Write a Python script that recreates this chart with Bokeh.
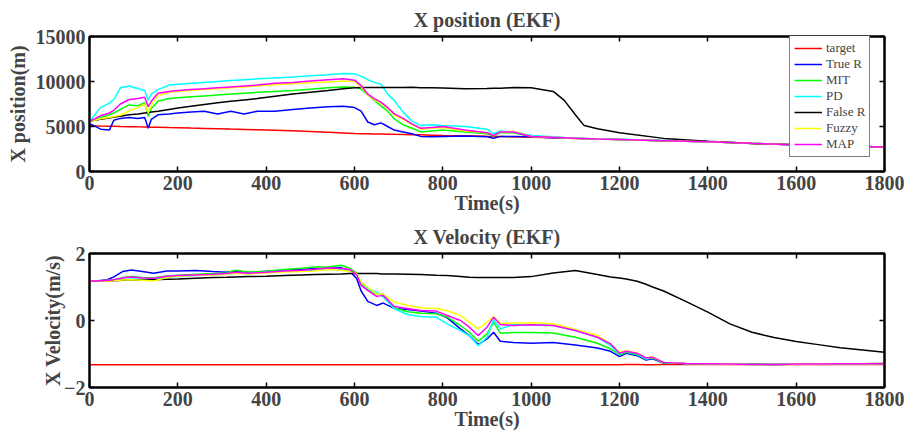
from bokeh.plotting import figure
from bokeh.layouts import column
from bokeh.models import (ColumnDataSource, LinearAxis, Range1d, FixedTicker,
                          Legend, LegendItem)
from bokeh.embed import file_html
from bokeh.resources import INLINE

# ---------------- X position (EKF) ----------------
t_pos = [0, 10, 25, 45, 55, 70, 90, 110, 125, 133, 140,
         155, 180, 200, 230, 260, 290, 320, 350, 380, 420, 460,
         500, 540, 575, 600, 615, 630, 645, 660, 675, 690, 710,
         730, 750, 775, 800, 850, 900, 915, 930, 960, 1000, 1050,
         1075, 1100, 1120, 1150, 1200, 1300, 1400, 1500, 1600, 1700, 1800]

pos_target = [5100, 5080, 5060, 5040, 5030, 5000, 4980, 4960, 4950, 4940, 4930,
              4910, 4880, 4860, 4820, 4790, 4750, 4710, 4680, 4640, 4590, 4520,
              4440, 4360, 4280, 4220, 4200, 4190, 4170, 4160, 4150, 4130, 4110,
              4090, 4070, 4040, 4000, 3960, 3910, 3900, 3890, 3850, 3800, 3740,
              3710, 3680, 3650, 3610, 3550, 3420, 3300, 3110, 2950, 2820, 2700]

pos_true_r = [5300, 5100, 4700, 4600, 5700, 5900, 6000, 5900, 6000, 4800, 5800,
              6300, 6400, 6500, 6600, 6700, 6400, 6700, 6400, 6700, 6700, 6900,
              7050, 7200, 7250, 7100, 6700, 5500, 5200, 5400, 5000, 4600, 4400,
              4200, 3900, 3850, 3900, 3950, 3850, 3700, 3900, 3900, 3850, 3760,
              3720, 3690, 3660, 3620, 3560, 3430, 3310, 3130, 2960, 2830, 2710]

pos_mit = [5500, 5700, 6000, 6300, 6500, 6900, 7400, 7300, 7650, 6100, 7000,
           7800, 8100, 8200, 8300, 8400, 8500, 8600, 8700, 8800, 8900, 9000,
           9150, 9300, 9400, 9350, 9150, 8500, 7900, 7300, 6700, 5850, 5200,
           4800, 4400, 4500, 4600, 4400, 4200, 3950, 4300, 4300, 3900, 3800,
           3750, 3700, 3670, 3620, 3560, 3430, 3310, 3130, 2960, 2830, 2710]

pos_pd = [5500, 6200, 7100, 7600, 8000, 9300, 9500, 9200, 9000, 7900, 8600,
          9100, 9600, 9700, 9800, 9900, 10000, 10100, 10200, 10300, 10400, 10500,
          10650, 10750, 10900, 10850, 10600, 10200, 9900, 9700, 8600, 7900, 6600,
          5600, 5100, 5200, 5100, 5000, 4700, 4200, 4500, 4400, 4000, 3850,
          3780, 3720, 3680, 3630, 3570, 3440, 3310, 3130, 2960, 2830, 2710]

pos_false_r = [5600, 5700, 5800, 5950, 6050, 6150, 6300, 6400, 6500, 6550, 6600,
               6700, 6900, 7050, 7250, 7450, 7650, 7800, 7950, 8100, 8350, 8600,
               8800, 9000, 9200, 9300, 9320, 9330, 9330, 9330, 9330, 9320, 9320,
               9350, 9300, 9300, 9280, 9200, 9220, 9250, 9250, 9320, 9300, 8900,
               7900, 6300, 5100, 4750, 4300, 3680, 3350, 3120, 2960, 2830, 2710]

pos_fuzzy = [5600, 5700, 5850, 6000, 6100, 6250, 6750, 7100, 7500, 6500, 7400,
             8400, 8800, 8900, 9000, 9100, 9200, 9300, 9400, 9500, 9650, 9750,
             9850, 9950, 10050, 10000, 9400, 8500, 8000, 7600, 7000, 6300, 5800,
             5200, 4700, 4800, 4900, 4500, 4300, 4000, 4400, 4450, 3900, 3800,
             3760, 3700, 3670, 3620, 3560, 3430, 3310, 3130, 2960, 2830, 2710]

pos_map = [5600, 5800, 6200, 6500, 6800, 7500, 8000, 8100, 8250, 7200, 7800,
           8700, 8900, 9000, 9100, 9200, 9300, 9400, 9500, 9600, 9800, 9900,
           10050, 10200, 10300, 10150, 9550, 8600, 8100, 7700, 7100, 6400, 5900,
           5300, 4800, 4900, 5000, 4600, 4300, 4000, 4400, 4400, 3900, 3800,
           3760, 3700, 3670, 3620, 3560, 3430, 3310, 3130, 2960, 2830, 2710]

# ---------------- X Velocity (EKF) ----------------
t_vel = [0, 20, 40, 55, 75, 95, 120, 145, 175, 200, 240, 280,
         310, 330, 360, 400, 440, 480, 510, 540, 570, 590, 605, 615,
         630, 650, 665, 690, 720, 750, 785, 810, 840, 860, 880, 900,
         915, 930, 960, 1000, 1050, 1100, 1150, 1180, 1200, 1215, 1240, 1260,
         1275, 1300, 1350, 1400, 1450, 1500, 1550, 1600, 1650, 1700, 1750, 1800]

vel_target = [-1.32, -1.32, -1.32, -1.32, -1.32, -1.32, -1.32, -1.32, -1.32, -1.32, -1.32, -1.32,
              -1.32, -1.32, -1.32, -1.32, -1.32, -1.32, -1.32, -1.32, -1.32, -1.32, -1.32, -1.32,
              -1.32, -1.32, -1.32, -1.32, -1.32, -1.32, -1.32, -1.32, -1.32, -1.32, -1.32, -1.32,
              -1.32, -1.32, -1.32, -1.32, -1.32, -1.32, -1.32, -1.32, -1.32, -1.31, -1.31, -1.32,
              -1.32, -1.31, -1.31, -1.31, -1.31, -1.31, -1.31, -1.31, -1.31, -1.31, -1.31, -1.31]

vel_true_r = [1.18, 1.19, 1.22, 1.30, 1.46, 1.51, 1.46, 1.41, 1.48, 1.48, 1.49, 1.46,
              1.44, 1.48, 1.43, 1.47, 1.50, 1.52, 1.55, 1.56, 1.58, 1.46, 1.25, 0.88,
              0.57, 0.45, 0.52, 0.36, 0.33, 0.28, 0.22, 0.08, -0.25, -0.45, -0.72, -0.55,
              -0.35, -0.62, -0.66, -0.68, -0.66, -0.73, -0.82, -0.92, -1.08, -0.98, -1.05, -1.18,
              -1.14, -1.27, -1.29, -1.29, -1.30, -1.30, -1.31, -1.30, -1.30, -1.29, -1.29, -1.29]

vel_mit = [1.18, 1.18, 1.20, 1.22, 1.28, 1.31, 1.28, 1.27, 1.33, 1.35, 1.38, 1.40,
           1.42, 1.50, 1.45, 1.47, 1.52, 1.56, 1.60, 1.60, 1.65, 1.55, 1.42, 1.10,
           0.92, 0.80, 0.78, 0.38, 0.26, 0.22, 0.20, 0.10, -0.15, -0.35, -0.62, -0.40,
           -0.05, -0.38, -0.36, -0.36, -0.37, -0.50, -0.68, -0.85, -1.02, -0.95, -1.02, -1.15,
           -1.12, -1.26, -1.28, -1.29, -1.30, -1.31, -1.32, -1.30, -1.30, -1.29, -1.29, -1.28]

vel_pd = [1.18, 1.18, 1.19, 1.20, 1.22, 1.24, 1.24, 1.24, 1.28, 1.31, 1.34, 1.36,
          1.38, 1.42, 1.40, 1.44, 1.47, 1.48, 1.50, 1.52, 1.53, 1.46, 1.38, 1.15,
          0.95, 0.85, 0.70, 0.35, 0.18, 0.12, 0.10, -0.10, -0.30, -0.45, -0.75, -0.50,
          0.02, -0.25, -0.12, -0.13, -0.15, -0.30, -0.50, -0.75, -1.00, -0.92, -1.00, -1.15,
          -1.10, -1.25, -1.28, -1.29, -1.30, -1.31, -1.32, -1.30, -1.30, -1.29, -1.29, -1.28]

vel_false_r = [1.18, 1.18, 1.19, 1.19, 1.20, 1.21, 1.21, 1.22, 1.23, 1.24, 1.26, 1.28,
               1.29, 1.30, 1.31, 1.32, 1.34, 1.36, 1.37, 1.38, 1.39, 1.40, 1.40, 1.40,
               1.40, 1.40, 1.39, 1.39, 1.38, 1.37, 1.35, 1.34, 1.31, 1.29, 1.28, 1.28,
               1.28, 1.28, 1.28, 1.31, 1.42, 1.49, 1.37, 1.30, 1.27, 1.24, 1.17, 1.08,
               1.00, 0.88, 0.57, 0.25, -0.10, -0.35, -0.51, -0.63, -0.72, -0.81, -0.88, -0.95]

vel_fuzzy = [1.18, 1.18, 1.18, 1.19, 1.21, 1.22, 1.20, 1.18, 1.28, 1.32, 1.35, 1.36,
             1.38, 1.41, 1.39, 1.42, 1.45, 1.46, 1.48, 1.52, 1.50, 1.46, 1.40, 1.15,
             0.99, 0.80, 0.78, 0.55, 0.45, 0.38, 0.36, 0.29, 0.15, -0.05, -0.25, -0.05,
             0.12, -0.08, -0.08, -0.07, -0.10, -0.27, -0.45, -0.70, -0.95, -0.90, -0.97, -1.12,
             -1.08, -1.25, -1.28, -1.29, -1.30, -1.31, -1.32, -1.30, -1.30, -1.29, -1.29, -1.28]

vel_map = [1.18, 1.18, 1.20, 1.22, 1.27, 1.30, 1.27, 1.26, 1.32, 1.34, 1.36, 1.38,
           1.40, 1.44, 1.41, 1.44, 1.48, 1.50, 1.53, 1.57, 1.55, 1.52, 1.36, 1.05,
           0.90, 0.72, 0.75, 0.42, 0.36, 0.30, 0.28, 0.15, 0.00, -0.20, -0.45, -0.20,
           0.10, -0.12, -0.15, -0.13, -0.15, -0.30, -0.50, -0.70, -0.98, -0.92, -0.98, -1.12,
           -1.10, -1.25, -1.28, -1.29, -1.30, -1.31, -1.32, -1.30, -1.30, -1.29, -1.29, -1.28]

series_names = ["target", "True R", "MIT", "PD", "False R", "Fuzzy", "MAP"]
series_colors = ["#ff0000", "#0000ff", "#00ff00", "#00ffff", "#000000", "#ffff00", "#ff00ff"]
x_ticks = [0, 200, 400, 600, 800, 1000, 1200, 1400, 1600, 1800]
pos_ticks = [0, 5000, 10000, 15000]
vel_ticks = [-2, 0, 2]

FONT = "Liberation Serif"


def make_plot(title, ylabel, t, ys, y0, y1, yticks, height, top, bottom, ylab_standoff):
    p = figure(width=906, height=height, output_backend="svg", toolbar_location=None,
               x_range=Range1d(0, 1800), y_range=Range1d(y0, y1),
               min_border_left=89, min_border_right=22,
               min_border_top=top, min_border_bottom=bottom,
               title=title)
    p.title.align = "center"
    p.title.vertical_align = "top"
    p.title.text_font = FONT
    p.title.text_font_style = "bold"
    p.title.text_font_size = "20px"
    p.title.standoff = 8
    p.grid.visible = False
    p.outline_line_color = "black"
    p.outline_line_width = 2
    p.background_fill_color = "white"
    p.border_fill_color = "white"

    src = ColumnDataSource(dict(t=t, **{f"s{i}": y for i, y in enumerate(ys)}))
    renderers = []
    for i, (name, col) in enumerate(zip(series_names, series_colors)):
        r = p.line("t", f"s{i}", source=src, line_color=col, line_width=1.5)
        renderers.append((name, r))

    for ax, ticks in ((p.xaxis[0], x_ticks), (p.yaxis[0], yticks)):
        ax.ticker = FixedTicker(ticks=ticks)
        ax.major_tick_in = 5
        ax.major_tick_out = 0
        ax.minor_tick_in = 0
        ax.minor_tick_out = 0
        ax.axis_line_width = 2
        ax.major_tick_line_width = 1.5
        ax.major_label_text_font = FONT
        ax.major_label_text_font_style = "bold"
        ax.major_label_text_font_size = "20px"
        ax.major_label_standoff = 4
        ax.axis_label_text_font = FONT
        ax.axis_label_text_font_style = "bold"
        ax.axis_label_text_font_size = "20px"
    p.xaxis[0].axis_label = "Time(s)"
    p.xaxis[0].axis_label_standoff = -1
    p.yaxis[0].axis_label = ylabel
    p.yaxis[0].axis_label_standoff = ylab_standoff

    # mirrored tick marks (box on), without labels
    for place, ticks in (("above", x_ticks), ("right", yticks)):
        ax = LinearAxis(ticker=FixedTicker(ticks=ticks),
                        major_label_overrides={tk: "" for tk in ticks})
        ax.major_tick_in = 5
        ax.major_tick_out = 0
        ax.minor_tick_in = 0
        ax.minor_tick_out = 0
        ax.axis_line_width = 2
        ax.major_tick_line_width = 1.5
        ax.major_label_text_font_size = "1px"
        ax.major_label_text_color = None
        ax.major_label_standoff = 0
        p.add_layout(ax, place)
    return p, renderers


p1, r1 = make_plot("X position (EKF)", "X position(m)", t_pos,
                   [pos_target, pos_true_r, pos_mit, pos_pd, pos_false_r, pos_fuzzy, pos_map],
                   0, 15000, pos_ticks, 220, 36, 49, 4)

legend = Legend(items=[LegendItem(label=n, renderers=[r]) for n, r in r1],
                location=(700, 14))
legend.border_line_color = "black"
legend.border_line_width = 1.5
legend.background_fill_color = "white"
legend.background_fill_alpha = 1
legend.label_text_font = FONT
legend.label_text_font_size = "13px"
legend.glyph_width = 28
legend.glyph_height = 16
legend.label_height = 16
legend.label_standoff = 4
legend.spacing = 0
legend.padding = 4
legend.margin = 0
p1.add_layout(legend)

p2, r2 = make_plot("X Velocity (EKF)", "X Velocity(m/s)", t_vel,
                   [vel_target, vel_true_r, vel_mit, vel_pd, vel_false_r, vel_fuzzy, vel_map],
                   -2, 2, vel_ticks, 219, 33, 52, -3)

layout = column(p1, p2, spacing=0)
open("out.html", "w").write(file_html(layout, INLINE))
